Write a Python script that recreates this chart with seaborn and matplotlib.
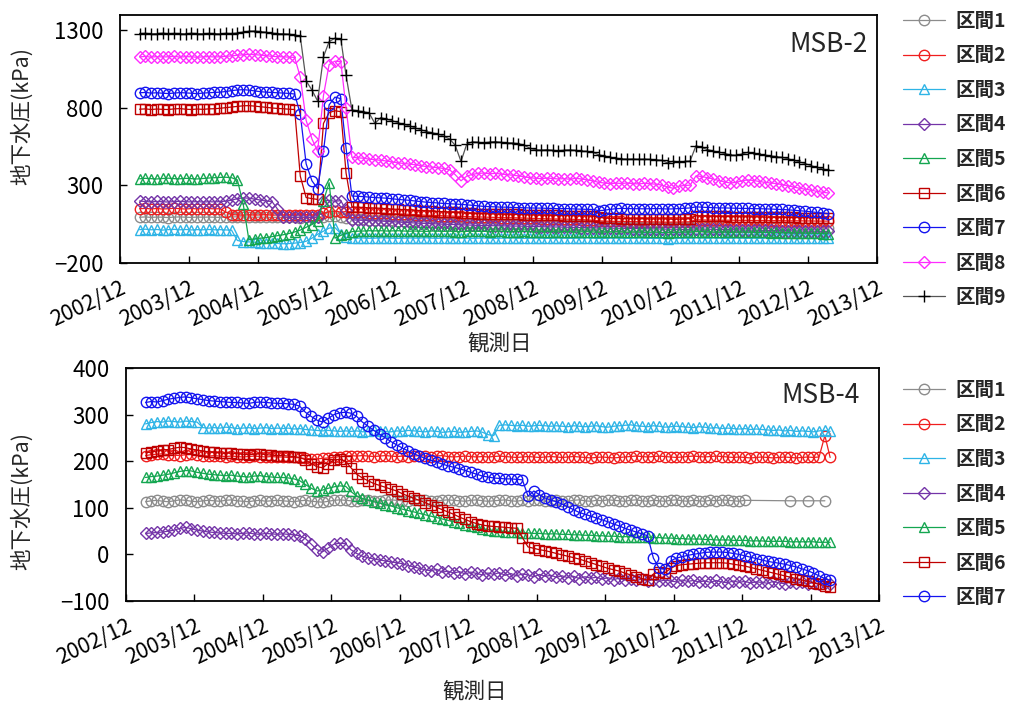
import numpy as np
import pandas as pd
import matplotlib
matplotlib.use("Agg")
import matplotlib.pyplot as plt
import matplotlib.dates as mdates
import seaborn as sns

sns.set_theme(style="white")
plt.rcParams["font.family"] = ["Noto Sans CJK JP", "DejaVu Sans"]
plt.rcParams["axes.unicode_minus"] = True

# monthly observation dates, 2003/03 - 2013/03
dates = pd.date_range("2003-03-01", "2013-03-01", freq="MS") + pd.Timedelta(days=14)
N = None

names = ["区間1", "区間2", "区間3", "区間4", "区間5", "区間6", "区間7", "区間8", "区間9"]

# ---------------- MSB-2 : pore pressure (kPa) ----------------
msb2_1 = [95, 97, 94, 96, 95, 93, 96, 97, 95, 94, 96, 95,
          96, 95, 94, 96, 97, 98, 97, 96, 95, 96, 95, 94,
          95, 94, 96, 95, 93, 94, 95, 96, 98, 100, 100, 98,
          90, 86, 84, 82, 80, 78, 76, 75, 74, 72, 70, 69,
          68, 66, 65, 64, 63, 62, 61, 60, 58, 57, 56, 55,
          55, 54, 53, 52, 52, 51, 50, 50, 49, 48, 48, 47,
          46, 46, 45, 44, 44, 43, 42, 42, 40, 38, 37, 36,
          36, 35, 35, 34, 34, 33, 33, 32, 31, 31, 32, 32,
          33, 36, 36, 35, 35, 34, 34, 33, 33, 32, 32, 31,
          31, 30, 30, 29, 29, 28, 28, 27, 27, 26, 26, 25,
          25]
msb2_2 = [150, 152, 149, 151, 148, 150, 153, 150, 148, 151, 149, 150,
          151, 149, 150, 128, 112, 110, 108, 111, 109, 110, 112, 108,
          110, 109, 111, 108, 110, 112, 109, 111, 120, 130, 135, 128,
          132, 130, 128, 126, 124, 122, 121, 120, 118, 116, 115, 114,
          112, 110, 108, 107, 106, 104, 103, 102, 100, 99, 98, 97,
          96, 95, 94, 93, 92, 92, 91, 90, 88, 87, 86, 85,
          84, 84, 83, 82, 81, 80, 78, 76, 72, 70, 69, 68,
          68, 67, 67, 66, 66, 65, 65, 64, 63, 64, 64, 65,
          66, 78, 78, 77, 77, 76, 76, 76, 75, 75, 75, 74,
          74, 74, 73, 73, 73, 72, 72, 72, 71, 71, 70, 70,
          70]
msb2_3 = [15, 18, 14, 16, 12, 15, 17, 14, 16, 13, 15, 14,
          16, 14, 15, 13, 12, -55, -62, -64, -66, -68, -70, -72,
          -74, -76, -75, -72, -68, -60, -40, -15, 5, 25, 28, -10,
          -35, -38, -40, -39, -41, -40, -38, -39, -40, -41, -40, -39,
          -40, -39, -38, -40, -41, -39, -40, -38, -39, -40, -41, -40,
          -39, -40, -41, -40, -39, -38, -40, -41, -40, -39, -40, -41,
          -40, -39, -40, -41, -40, -39, -38, -40, -42, -41, -40, -39,
          -40, -41, -40, -39, -40, -41, -42, -41, -43, -42, -41, -40,
          -40, -38, -39, -40, -39, -40, -41, -40, -39, -40, -41, -40,
          -41, -40, -41, -42, -41, -40, -41, -42, -41, -42, -41, -42,
          -42]
msb2_4 = [200, 196, 194, 197, 195, 193, 196, 198, 195, 194, 196, 193,
          195, 194, 196, 199, 205, 215, 220, 218, 212, 206, 200, 196,
          150, 96, 95, 94, 96, 95, 94, 96, 200, 204, 198, 202,
          140, 78, 76, 75, 73, 72, 70, 68, 66, 64, 62, 60,
          58, 56, 55, 54, 52, 50, 49, 48, 46, 45, 44, 42,
          42, 41, 40, 40, 39, 38, 38, 37, 36, 35, 34, 33,
          32, 32, 31, 30, 29, 28, 28, 27, 26, 25, 25, 24,
          24, 23, 22, 22, 21, 20, 20, 19, 18, 18, 17, 16,
          18, 20, 19, 18, 17, 16, 15, 15, 14, 13, 12, 12,
          11, 10, 10, 9, 9, 8, 7, 7, 6, 5, 5, 4,
          4]
msb2_5 = [343, 346, 344, 342, 345, 347, 344, 343, 346, 344, 342, 345,
          348, 350, 352, 353, 350, 336, 180, -50, -45, -40, -36, -30,
          -24, -18, -10, 0, 12, 30, 48, 70, 200, 318, -40, -22,
          -10, 2, 5, 6, 8, 7, 8, 6, 7, 8, 6, 5,
          6, 5, 4, 6, 5, 4, 5, 3, 2, 4, 5, 4,
          4, 3, 5, 4, 3, 2, 3, 4, 2, 1, 2, 3,
          2, 1, 3, 2, 0, 1, 2, 0, -2, -1, 0, 1,
          0, -1, 1, 0, -2, -1, 0, -3, -4, -2, -1, 0,
          0, 3, 2, 1, 0, -1, 0, -2, -1, 0, -1, -2,
          -3, -2, -4, -3, -5, -4, -6, -5, -7, -8, -9, -10,
          -10]
msb2_6 = [792, 794, 790, 793, 791, 790, 794, 796, 792, 790, 793, 791,
          794, 795, 798, 802, 806, 810, 814, 815, 812, 808, 804, 800,
          797, 795, 792, 790, 360, 222, 215, 210, 700, 770, 782, 776,
          380, 162, 160, 158, 156, 155, 153, 150, 148, 146, 144, 142,
          140, 138, 136, 134, 132, 130, 128, 126, 124, 122, 120, 118,
          118, 117, 116, 115, 114, 114, 113, 112, 110, 110, 109, 108,
          108, 107, 106, 106, 105, 104, 104, 102, 96, 90, 88, 87,
          86, 86, 85, 85, 86, 84, 84, 85, 84, 82, 83, 84,
          86, 104, 103, 102, 101, 100, 100, 99, 99, 98, 98, 97,
          97, 96, 96, 95, 95, 94, 94, 93, 93, 92, 92, 91,
          90]
msb2_7 = [898, 900, 896, 898, 895, 893, 896, 899, 897, 895, 892, 896,
          898, 900, 902, 906, 912, 916, 918, 915, 910, 905, 902, 900,
          898, 896, 894, 890, 760, 440, 330, 280, 520, 820, 870, 860,
          540, 232, 230, 228, 225, 222, 220, 218, 214, 210, 207, 204,
          200, 196, 192, 190, 187, 184, 182, 180, 178, 175, 172, 168,
          165, 163, 162, 160, 160, 158, 157, 156, 155, 154, 154, 152,
          152, 150, 151, 150, 148, 147, 146, 145, 138, 140, 146, 150,
          152, 151, 150, 150, 149, 150, 151, 150, 148, 149, 151, 153,
          155, 162, 160, 158, 157, 155, 155, 154, 153, 152, 152, 150,
          150, 149, 148, 146, 145, 143, 140, 137, 134, 130, 126, 122,
          118]
msb2_8 = [1130, 1132, 1128, 1131, 1129, 1130, 1133, 1128, 1131, 1130, 1127, 1130,
          1131, 1129, 1130, 1133, 1136, 1140, 1143, 1146, 1144, 1141, 1137, 1133,
          1131, 1130, 1128, 1126, 1000, 720, 600, 520, 880, 1080, 1102, 1098,
          800, 482, 478, 476, 470, 466, 462, 458, 452, 446, 442, 438,
          434, 428, 422, 418, 414, 410, 402, 370, 330, 360, 372, 378,
          380, 376, 378, 374, 370, 366, 362, 356, 350, 346, 344, 348,
          345, 342, 344, 340, 346, 342, 336, 330, 320, 316, 312, 315,
          313, 316, 312, 310, 314, 311, 308, 303, 290, 282, 296, 300,
          302, 362, 358, 350, 342, 332, 322, 316, 320, 330, 336, 332,
          326, 320, 316, 312, 306, 298, 290, 282, 276, 270, 262, 256,
          252]
msb2_9 = [1280, 1282, 1278, 1280, 1283, 1279, 1281, 1280, 1278, 1282, 1280, 1279,
          1281, 1280, 1278, 1282, 1280, 1284, 1290, 1295, 1296, 1293, 1288, 1283,
          1280, 1279, 1276, 1272, 1262, 975, 915, 845, 1130, 1228, 1250, 1246,
          1010, 788, 782, 776, 768, 700, 738, 728, 718, 705, 694, 684,
          672, 660, 648, 640, 632, 618, 600, 560, 455, 565, 582, 578,
          575, 580, 583, 578, 576, 574, 570, 560, 540, 530, 528, 531,
          527, 524, 528, 530, 526, 522, 520, 514, 498, 490, 482, 476,
          472, 470, 471, 469, 470, 468, 466, 462, 446, 456, 452, 455,
          458, 556, 545, 532, 522, 515, 506, 497, 494, 503, 514, 509,
          502, 496, 491, 486, 481, 472, 462, 452, 441, 428, 416, 406,
          400]

# ---------------- MSB-4 : pore pressure (kPa) ----------------
msb4_1 = [113, 115, 116, 114, 113, 115, 117, 116, 114, 113, 115, 116,
          115, 114, 116, 117, 115, 114, 113, 115, 116, 114, 115, 116,
          115, 114, 113, 115, 116, 114, 113, 112, 114, 116, 117, 116,
          115, 114, 116, 117, 115, 114, 116, 117, 116, 115, 114, 116,
          117, 116, 115, 114, 116, 117, 116, 115, 114, 116, 117, 115,
          114, 115, 116, 117, 115, 114, 116, 115, 117, 116, 114, 115,
          116, 115, 114, 116, 117, 115, 114, 116, 115, 117, 116, 115,
          114, 116, 117, 115, 114, 116, 115, 114, 116, 117, 115, 114,
          116, 115, 114, 116, 115, 117, 116, 115, 114, 116, N, N,
          N, N, N, N, N, 115, N, N, 115, N, N, 115,
          N]
msb4_2 = [212, 214, 215, 216, 214, 213, 212, 214, 215, 213, 212, 211,
          212, 211, 210, 211, 210, 209, 210, 211, 210, 209, 210, 209,
          209, 208, 208, 207, 206, 205, 205, 206, 207, 208, 210, 211,
          212, 211, 212, 211, 210, 211, 212, 211, 210, 211, 210, 211,
          212, 211, 210, 211, 212, 210, 209, 210, 211, 210, 209, 210,
          209, 210, 211, 210, 209, 208, 209, 210, 209, 208, 209, 210,
          209, 208, 209, 210, 209, 208, 207, 208, 209, 208, 207, 208,
          209, 210, 211, 210, 209, 210, 211, 210, 209, 208, 209, 210,
          211, 210, 209, 210, 211, 210, 209, 208, 209, 208, 207, 208,
          209, 208, 207, 208, 209, 208, 207, 208, 209, 208, 209, 255,
          208]
msb4_3 = [280, 283, 285, 284, 286, 285, 284, 286, 285, 284, 272, 271,
          272, 271, 273, 272, 270, 271, 272, 270, 271, 272, 270, 271,
          270, 271, 269, 270, 268, 267, 266, 265, 266, 265, 264, 265,
          264, 265, 263, 264, 266, 265, 264, 263, 265, 264, 266, 265,
          264, 263, 265, 264, 262, 263, 264, 262, 263, 264, 265, 262,
          257, 255, 277, 278, 277, 276, 277, 275, 276, 277, 276, 275,
          276, 275, 274, 276, 275, 274, 275, 276, 274, 273, 275, 276,
          277, 278, 276, 275, 274, 276, 275, 273, 274, 275, 274, 273,
          272, 274, 273, 271, 272, 270, 271, 270, 269, 270, 268, 269,
          268, 267, 266, 267, 265, 266, 264, 265, 264, 263, 265, 266,
          264]
msb4_4 = [45, 46, 47, 48, 50, 52, 56, 58, 55, 52, 50, 48,
          47, 46, 45, 45, 44, 45, 46, 44, 43, 45, 44, 43,
          44, 43, 42, 40, 34, 22, 10, 6, 14, 22, 24, 23,
          10, 2, -4, -7, -10, -12, -14, -16, -18, -20, -24, -27,
          -30, -33, -35, -32, -38, -36, -40, -37, -42, -38, -41, -44,
          -40, -43, -39, -45, -41, -46, -42, -44, -48, -43, -47, -45,
          -49, -46, -50, -47, -52, -48, -51, -49, -53, -50, -54, -51,
          -55, -52, -56, -53, -57, -54, -58, -55, -57, -59, -55, -58,
          -56, -59, -57, -60, -56, -59, -61, -57, -60, -58, -61, -59,
          -60, -62, -58, -61, -63, -59, -62, -60, -63, -61, -64, -62,
          -63]
msb4_5 = [165, 167, 168, 170, 172, 175, 178, 180, 179, 176, 174, 172,
          171, 170, 169, 170, 168, 167, 166, 168, 169, 167, 166, 165,
          165, 164, 162, 158, 150, 142, 136, 138, 142, 145, 147, 146,
          135, 125, 120, 116, 113, 110, 107, 104, 100, 97, 94, 91,
          88, 85, 82, 79, 76, 73, 70, 67, 64, 61, 58, 55,
          53, 51, 50, 49, 48, 47, 46, 46, 45, 45, 44, 44,
          44, 43, 43, 42, 42, 41, 41, 40, 40, 39, 39, 38,
          38, 38, 37, 37, 37, 36, 36, 35, 35, 34, 34, 33,
          33, 33, 32, 32, 31, 31, 31, 30, 30, 30, 29, 29,
          29, 28, 28, 28, 28, 27, 27, 27, 27, 27, 26, 26,
          26]
msb4_6 = [218, 220, 222, 224, 225, 228, 230, 229, 226, 224, 222, 220,
          219, 218, 217, 218, 216, 215, 214, 215, 216, 214, 213, 212,
          212, 211, 210, 208, 203, 195, 188, 186, 195, 203, 204, 200,
          186, 172, 164, 158, 152, 148, 144, 140, 136, 130, 125, 120,
          116, 111, 106, 101, 96, 91, 86, 80, 75, 70, 66, 63,
          61, 60, 59, 58, 57, 56, 36, 16, 13, 10, 8, 5,
          2, -1, -4, -7, -10, -14, -18, -22, -26, -30, -33, -36,
          -40, -44, -48, -52, -55, -42, -38, -40, -30, -24, -22, -21,
          -20, -19, -18, -18, -18, -18, -19, -21, -23, -25, -28, -31,
          -34, -37, -40, -43, -46, -49, -52, -55, -58, -61, -64, -67,
          -70]
msb4_7 = [326, 328, 327, 330, 333, 335, 337, 338, 336, 334, 332, 330,
          329, 328, 327, 326, 326, 325, 324, 326, 327, 326, 325, 324,
          324, 323, 322, 318, 305, 296, 288, 284, 292, 300, 304, 305,
          303, 296, 284, 275, 266, 258, 250, 242, 235, 228, 222, 216,
          211, 206, 202, 198, 194, 190, 187, 184, 180, 176, 172, 168,
          166, 164, 163, 162, 162, 161, 160, 125, 136, 128, 121, 116,
          113, 108, 102, 96, 90, 86, 82, 78, 74, 70, 65, 61,
          56, 52, 48, 44, 40, -8, -30, -32, -14, -8, -5, -2,
          0, 2, 4, 5, 5, 5, 4, 2, 0, -3, -6, -9,
          -12, -15, -17, -19, -21, -24, -27, -31, -35, -40, -46, -52,
          -56]

colors = ["#8c8c8c", "#f01e1e", "#2eb4e6", "#7434a8", "#14a650",
          "#c00000", "#1414f0", "#ff2cff", "#000000"]
markers = ["o", "o", "^", "D", "^", "s", "o", "D", "+"]
msizes = [7.5, 7.5, 7.5, 6, 7.5, 7, 7.5, 6, 9]

year_ticks = pd.date_range("2002-12-01", "2013-12-01", freq="12MS")


def draw_panel(ax, series, ylim, yticks, tag, tag_x):
    for i, vals in enumerate(series):
        d = pd.DataFrame({"date": dates, "kPa": pd.array(vals, dtype="Float64")})
        d = d.dropna().astype({"kPa": float})
        line_col = "#555555" if markers[i] == "+" else colors[i]
        sns.lineplot(data=d, x="date", y="kPa", ax=ax, estimator=None, sort=False,
                     color=line_col, linewidth=0.9, marker=markers[i],
                     markersize=msizes[i], markerfacecolor="none",
                     markeredgecolor=colors[i], markeredgewidth=1.0,
                     label=names[i])
    ax.set_xlim(year_ticks[0], year_ticks[-1])
    ax.set_ylim(*ylim)
    ax.set_yticks(yticks)
    ax.set_xticks(year_ticks)
    ax.xaxis.set_major_formatter(mdates.DateFormatter("%Y/%m"))
    ax.tick_params(axis="y", direction="in", length=5, width=1, labelsize=16,
                   pad=12, left=True, right=False, colors="black")
    ax.tick_params(axis="x", direction="in", length=5, width=1, labelsize=15.5,
                   pad=10, bottom=True, top=False, colors="black")
    for lab in ax.get_xticklabels():
        lab.set_rotation(25)
        lab.set_ha("right")
        lab.set_va("top")
        lab.set_rotation_mode("anchor")
    for sp in ax.spines.values():
        sp.set_color("black")
        sp.set_linewidth(1.3)
    ax.set_xlabel("観測日", fontsize=15.5)
    ax.set_ylabel("地下水圧(kPa)", fontsize=15.5)
    ax.text(tag_x, 0.88, tag, transform=ax.transAxes, ha="right", va="center",
            fontsize=19)


fig = plt.figure(figsize=(10.09, 7.02), dpi=100)
ax1 = fig.add_axes([0.1189, 0.6254, 0.7503, 0.3533])
ax2 = fig.add_axes([0.1249, 0.1439, 0.7463, 0.3319])

draw_panel(ax1, [msb2_1, msb2_2, msb2_3, msb2_4, msb2_5, msb2_6, msb2_7, msb2_8, msb2_9],
           (-200, 1400), [-200, 300, 800, 1300], "MSB-2", 0.988)
draw_panel(ax2, [msb4_1, msb4_2, msb4_3, msb4_4, msb4_5, msb4_6, msb4_7],
           (-100, 400), [-100, 0, 100, 200, 300, 400], "MSB-4", 0.975)

ax1.xaxis.set_label_coords(0.502, -0.28)
ax1.yaxis.set_label_coords(-0.115, 0.593)
ax2.xaxis.set_label_coords(0.463, -0.34)
ax2.yaxis.set_label_coords(-0.1235, 0.429)

for ax, cy in ((ax1, 0.7728), (ax2, 0.2963)):
    ax.legend(loc="center left", bbox_to_anchor=(0.895, cy),
              bbox_transform=fig.transFigure, frameon=False, borderpad=0,
              borderaxespad=0, handlelength=2.15, handletextpad=0.55,
              labelspacing=0.8, prop={"weight": "bold", "size": 14})

fig.savefig("out.png", dpi=100)
